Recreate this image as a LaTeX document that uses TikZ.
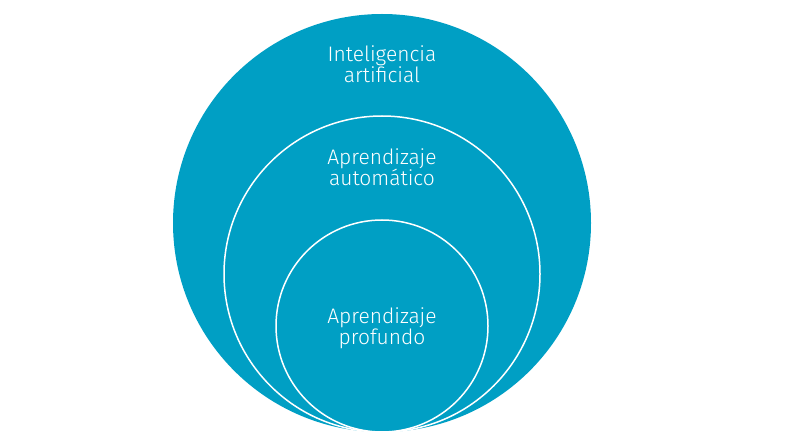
\documentclass[tikz,border=0pt]{standalone}
\usepackage{fontspec}
\setmainfont{Fira Sans Light}
\definecolor{aiblue}{RGB}{0,159,196}
\begin{document}
\begin{tikzpicture}[x=1pt,y=-1pt,
  ring/.style={circle, inner sep=0pt, outer sep=0pt, fill=aiblue},
  inring/.style={ring, draw=white, line width=1.5pt},
  lbl/.style={text=white, align=center, font=\fontsize{21}{21.5}\selectfont, inner sep=0pt}]
\useasboundingbox (0,0) rectangle (792,446);
\node[ring, minimum size=418pt] (ai) at (382,223) {};
\node[inring, minimum size=316pt] (ml) at (382,274) {};
\node[inring, minimum size=212pt] (dl) at (382,326) {};
\node[lbl] (tai) at (382,64) {Inteligencia\\artificial};
\node[lbl] (tml) at (382,167) {Aprendizaje\\automático};
\node[lbl] (tdl) at (382,328) {Aprendizaje\\profundo};
\end{tikzpicture}
\end{document}
